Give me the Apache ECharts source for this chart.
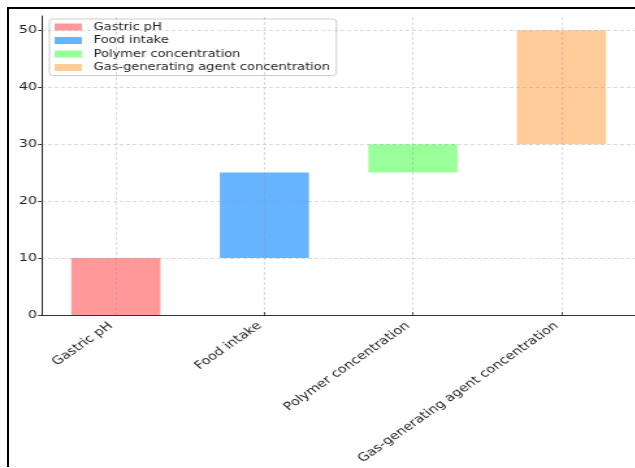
<!DOCTYPE html>
<html>
<head>
<meta charset="utf-8">
<script src="https://cdn.jsdelivr.net/npm/echarts@6/dist/echarts.min.js"></script>
<style>
  html, body { margin: 0; padding: 0; background: #fff; width: 635px; height: 468px; overflow: hidden; }
  #wrap { position: absolute; left: 0; top: 0; width: 635px; height: 468px; overflow: hidden; }
  #chart { position: absolute; left: 0; top: 0; width: 488.5px; height: 468px; transform: scaleX(1.3); transform-origin: 0 0; }
  #frameL { position: absolute; left: 7px; top: 7px; width: 2px; height: 460px; background: #000; pointer-events: none; }
  #frameT { position: absolute; left: 7px; top: 7px; width: 628px; height: 2px; background: #000; pointer-events: none; }
</style>
</head>
<body>
<div id="wrap">
  <div id="chart"></div>
  <div id="frameL"></div>
  <div id="frameT"></div>
</div>
<script>
// ---- data ----
const categories = ['Gastric pH', 'Food intake', 'Polymer concentration', 'Gas-generating agent concentration'];
const starts = [0, 10, 25, 30];
const changes = [10, 15, 5, 20];
const yTicks = [0, 10, 20, 30, 40, 50];
const gridYValues = [10, 20, 30, 40, 50];
const colors = ['#ff9999', '#66b3ff', '#99ff99', '#ffcc99'];

const chart = echarts.init(document.getElementById('chart'), null, { renderer: 'canvas' });
const font = 'DejaVu Sans';
const gridLine = { color: 'rgba(150,150,150,0.45)', width: 0.8, type: [3, 2] };

const series = [{
  name: 'base',
  type: 'bar',
  stack: 'total',
  barWidth: '60%',
  data: starts,
  itemStyle: { color: 'rgba(0,0,0,0)' },
  emphasis: { disabled: true },
  silent: true,
  z: 5,
  markLine: {
    silent: true,
    symbol: ['none', 'none'],
    label: { show: false },
    lineStyle: gridLine,
    animation: false,
    data: categories.map(c => ({ xAxis: c })).concat(gridYValues.map(v => ({ yAxis: v })))
  }
}];
categories.forEach((c, i) => {
  series.push({
    name: c,
    type: 'bar',
    stack: 'total',
    barWidth: '60%',
    data: categories.map((_, j) => j === i ? changes[i] : '-'),
    itemStyle: { color: colors[i] },
    z: 2
  });
});

chart.setOption({
  animation: false,
  backgroundColor: 'transparent',
  textStyle: { fontFamily: font },
  grid: { left: 32, right: 0, top: 16, bottom: 153, containLabel: false },
  legend: {
    data: categories,
    orient: 'vertical',
    left: 38,
    top: 19,
    padding: [2, 5, 2, 4],
    itemWidth: 21,
    itemHeight: 7,
    itemGap: 1.5,
    icon: 'rect',
    borderColor: '#cccccc',
    borderWidth: 1,
    borderRadius: 3,
    backgroundColor: 'rgba(255,255,255,0.85)',
    selectedMode: false,
    textStyle: { fontFamily: font, fontSize: 10, color: '#222', lineHeight: 12, padding: [0, 0, 0, 4] }
  },
  xAxis: {
    type: 'category',
    data: categories,
    boundaryGap: true,
    axisLine: { show: true, lineStyle: { color: '#333', width: 1 } },
    axisTick: { show: true, inside: true, length: 3, alignWithLabel: true, lineStyle: { color: '#333' } },
    splitLine: { show: false },
    axisLabel: { rotate: 42, margin: 6, padding: [0, 5, 0, 0], fontFamily: font, fontSize: 11.2, color: '#222', interval: 0 }
  },
  yAxis: {
    type: 'value',
    min: 0,
    max: 52.5,
    interval: 10,
    axisLine: { show: true, lineStyle: { color: '#222', width: 1 } },
    axisTick: { show: true, length: 2.7, lineStyle: { color: '#333' }, customValues: yTicks },
    splitLine: { show: false },
    axisLabel: { margin: 3.5, fontFamily: font, fontSize: 11, color: '#222', customValues: yTicks }
  },
  series: series
});
</script>
</body>
</html>
